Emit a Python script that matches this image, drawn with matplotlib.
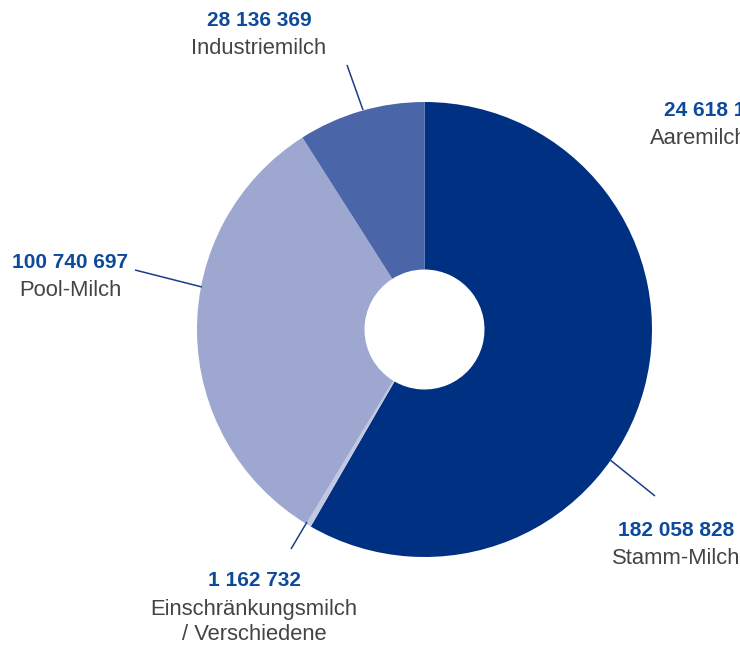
import matplotlib.pyplot as plt

# Milchmengen (kg) nach Kategorie, im Uhrzeigersinn ab 12 Uhr
kategorien = ["Stamm-Milch", "Einschränkungsmilch\n/ Verschiedene", "Pool-Milch", "Industriemilch"]
mengen = [182058828, 1162732, 100740697, 28136369]
farben = ["#003082", "#C3C7E3", "#9EA7D0", "#4A66A8"]
# Aaremilch: nur Beschriftung sichtbar (kein Segment im Bild)
aare_label = "Aaremilch"
aare_menge = 24618143

plt.rcParams['font.family'] = ['Liberation Sans', 'DejaVu Sans']
BLAU = "#0D4A9B"
GRAU = "#444444"
H = 648
FS_ZAHL = 15
FS_TEXT = 15.8

fig = plt.figure(figsize=(7.4, 6.48), dpi=100)
ax = fig.add_axes([0, 0, 1, 1])

ax.pie(mengen, colors=farben, startangle=90, counterclock=False,
       radius=227.5, center=(424.5, H - 329.5),
       wedgeprops=dict(width=167.5, edgecolor='none'))
ax.set_xlim(0, 740)
ax.set_ylim(0, H)
ax.set_aspect('equal')
ax.axis('off')


def fmt(n):
    return f"{n:,}".replace(",", " ")


def beschriftung(x, y, menge, name, ha='center'):
    ax.text(x, H - y, fmt(menge), ha=ha, va='center', fontsize=FS_ZAHL,
            fontweight='bold', color=BLAU)
    zeilen = name.split("\n")
    for i, z in enumerate(zeilen):
        ax.text(x, H - (y + 28 + 26 * i), z, ha=ha, va='center',
                fontsize=FS_TEXT, color=GRAU)


def linie(x1, y1, x2, y2):
    ax.plot([x1, x2], [H - y1, H - y2], color="#1D3C8C", lw=1.1,
            solid_capstyle='butt')


# Beschriftungen und Hinweislinien
beschriftung(676, 530, mengen[0], kategorien[0])
linie(609, 459, 655, 496)

beschriftung(254, 581, mengen[1], kategorien[1])
linie(291, 549, 307, 522)

beschriftung(70, 262, mengen[2], kategorien[2])
linie(135, 270, 202, 287)

beschriftung(259, 20, mengen[3], kategorien[3])
linie(347, 65, 363, 110)

ax.text(664, H - 110, fmt(aare_menge), ha='left', va='center', fontsize=FS_ZAHL,
        fontweight='bold', color=BLAU)
ax.text(650, H - 138, aare_label, ha='left', va='center', fontsize=FS_TEXT,
        color=GRAU)

fig.savefig("out.png", dpi=100)
